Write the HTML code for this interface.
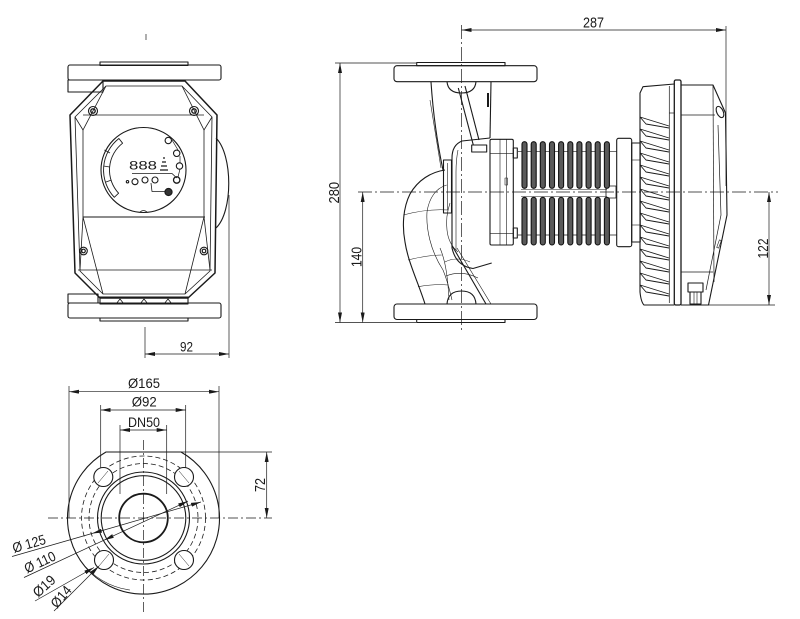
<!DOCTYPE html>
<html><head><meta charset="utf-8"><style>
html,body{margin:0;padding:0;background:#fff;}
svg{display:block;}
text{font-family:"Liberation Sans",sans-serif;fill:#1a1a1a;}
</style></head><body>
<svg width="800" height="619" viewBox="0 0 800 619" xmlns="http://www.w3.org/2000/svg">
<defs>
<marker id="a" viewBox="0 0 10 4" refX="10" refY="2" markerWidth="10" markerHeight="4" markerUnits="userSpaceOnUse" orient="auto-start-reverse"><path d="M0,0 L10,2 L0,4z" fill="#1a1a1a"/></marker>
</defs>
<rect width="800" height="619" fill="#fff"/>

<!-- ============ FRONT VIEW ============ -->
<g fill="none" stroke="#1a1a1a" stroke-width="1.1" stroke-linejoin="round">
  <line x1="146" y1="34" x2="146" y2="40" stroke-width="0.7"/>
  <path d="M216,138 C233,155 233,212 216,228"/>
  <rect x="100" y="62" width="88" height="3.5"/>
  <rect x="68" y="65" width="153" height="15" rx="2"/>
  <rect x="68" y="80" width="35" height="12"/>
  <polygon points="103,81 185,81 217,115 215,273 188,298 100,298 75,273 70,115" stroke-width="1.5"/>
  <polygon points="106,86 182,86 212,117 210,271 185,294 103,294 80,271 75,117" stroke-width="0.8"/>
  <line x1="83" y1="115" x2="204" y2="115" stroke-width="0.8"/>
  <polyline points="106,86 83,130 75,117" stroke-width="0.8"/>
  <polyline points="182,86 204,130 212,117" stroke-width="0.8"/>
  <line x1="83" y1="130" x2="83" y2="217" stroke-width="0.8"/>
  <line x1="204" y1="130" x2="204" y2="217" stroke-width="0.8"/>
  <line x1="83" y1="217" x2="205" y2="217" stroke-width="0.9"/>
  <polyline points="80,270 83,217 103,294" stroke-width="0.8"/>
  <polyline points="210,270 204,217 185,294" stroke-width="0.8"/>
  <line x1="78" y1="270" x2="212" y2="270" stroke-width="0.8"/>
  <circle cx="93" cy="111" r="4.5"/><circle cx="93" cy="111" r="2.2" stroke-width="1.4"/>
  <circle cx="194" cy="111" r="4.5"/><circle cx="194" cy="111" r="2.2" stroke-width="1.4"/>
  <circle cx="83.5" cy="251" r="3.8"/><circle cx="83.5" cy="251" r="1.8" stroke-width="1.2"/>
  <circle cx="204" cy="251" r="3.8"/><circle cx="204" cy="251" r="1.8" stroke-width="1.2"/>
  <circle cx="143.5" cy="170" r="42.5"/>
  <path d="M140,212 Q143.5,209 147,212" stroke-width="0.8"/>
  <path d="M118.9,138.5 A40,40 0 0 0 114.3,197.3 L118.6,193.2 A34,34 0 0 1 122.6,143.2 Z" stroke-width="0.9"/>
  <line x1="104.4" y1="150" x2="110" y2="153" stroke-width="0.8"/>
  <line x1="103.6" y1="166" x2="109.6" y2="167" stroke-width="0.8"/>
  <line x1="106" y1="182" x2="111.5" y2="180" stroke-width="0.8"/>
  <circle cx="168.3" cy="140.5" r="3.2"/>
  <circle cx="176.7" cy="153.3" r="3.2"/>
  <circle cx="179.5" cy="166" r="3.2"/>
  <circle cx="176.7" cy="180" r="3.2" stroke-width="1.3"/>
  <circle cx="135" cy="181.7" r="3"/>
  <circle cx="145" cy="180" r="3"/>
  <circle cx="155" cy="180" r="3"/>
  <circle cx="168.5" cy="192" r="3.6" fill="#333"/>
  <circle cx="127.5" cy="181.7" r="1.2"/>
  <polyline points="132,173.5 172,173.5 176.7,178" stroke-width="0.8"/>
  <polyline points="151,183 152,191.5 165,191.5" stroke-width="0.8"/>
  <path d="M172,140 L178,150 M180,156 L180,163 M180,169 L178,177" stroke-width="0.7"/>
  <rect x="68" y="294" width="30" height="9"/>
  <rect x="100" y="297" width="88" height="7"/>
  <path d="M116,304 L120,299 L124,304 M140,304 L144,299 L148,304 M164,304 L168,299 L172,304" stroke-width="0.8"/>
  <rect x="68" y="303" width="153" height="15" rx="2"/>
  <rect x="100" y="318" width="88" height="3"/>
</g>
<text x="129" y="169.5" font-size="12" textLength="28" lengthAdjust="spacingAndGlyphs" fill="#444">888</text>
<path d="M163,158 L165,158 M162,162 L166,162 M161,166 L167,166 M160,170 L168,170" stroke="#1a1a1a" stroke-width="1.2"/>
<g stroke="#1a1a1a" stroke-width="0.7" fill="none">
  <line x1="145" y1="327" x2="145" y2="358"/>
  <line x1="229" y1="195" x2="229" y2="358"/>
  <line x1="145" y1="354" x2="229" y2="354" marker-start="url(#a)" marker-end="url(#a)"/>
</g>
<text x="180" y="351.5" font-size="14" textLength="13" lengthAdjust="spacingAndGlyphs">92</text>

<!-- ============ SIDE VIEW ============ -->
<g fill="none" stroke="#1a1a1a" stroke-width="0.7">
  <line x1="461.5" y1="25" x2="461.5" y2="330" stroke-dasharray="14 3 2 3"/>
  <line x1="358" y1="192" x2="778" y2="192" stroke-dasharray="14 3 2 3"/>
</g>
<g fill="none" stroke="#1a1a1a" stroke-width="1.1" stroke-linejoin="round">
  <rect x="416.7" y="62.5" width="88.3" height="3.2"/>
  <rect x="394" y="65.7" width="143" height="16" rx="3"/>
  <rect x="394" y="304" width="143" height="15.5" rx="3"/>
  <rect x="416.7" y="319.5" width="88.3" height="3"/>
  <path d="M447,81.7 Q448,93 461.5,93 Q475,93 476,81.7"/>
  <path d="M447,304 Q448,291 461.5,291 Q475,291 476,304"/>
  <!-- neck / volute -->
  <path d="M431,82 C433,112 437,142 443,170"/>
  <path d="M491,82 L490,138"/>
  <path d="M445,170 C431,172 418,180 410,194 C403,208 402,226 405,242 C408,262 418,282 425,304"/>
  <path d="M451.7,245 L486,304"/>
  <path d="M457,248 L491,304" stroke-width="0.6"/>
  <g stroke-width="0.6">
    <path d="M446.7,185 C436,188 429,198 427,212 C426,228 430,250 443,270 C448,282 450,292 452,300"/>
    <path d="M450,203 C447,212 446,222 447,230 C448,240 452,247 458,252"/>
    <path d="M403.3,215 C418,211 433,209 448.3,210"/>
    <path d="M408,260 C420,257 432,255 441.7,255"/>
    <path d="M418,286.7 C428,285 438,284 448,285"/>
    <path d="M445,262 C452,258 462,258 470,262"/>
    <path d="M446,276 C456,272 466,272 478,278"/>
    <path d="M440,248 C446,262 448,280 449,300"/>
    <path d="M430,100 C434,125 438,150 441,168"/>
  </g>
  <!-- rod -->
  <line x1="458.3" y1="88" x2="473.3" y2="145"/>
  <line x1="465" y1="86" x2="479" y2="140"/>
  <line x1="488" y1="93" x2="488" y2="107" stroke-width="2"/>
  <!-- pump head -->
  <path d="M490,138 L462,141 Q452,145 452,158 L452,248 Q456,266 473,268.5 L491.7,263"/>
  <path d="M458,150 Q456,160 456,172 L456,250" stroke-width="0.6"/>
  <rect x="443.5" y="160" width="8" height="53"/>
  <line x1="447.5" y1="163" x2="447.5" y2="210" stroke-width="0.6"/>
  <rect x="471.7" y="145" width="15" height="7"/>
  <!-- terminal box -->
  <rect x="490" y="139.3" width="23.3" height="105.7" rx="1.5"/>
  <line x1="500" y1="139.3" x2="500" y2="245" stroke-width="0.6"/>
  <line x1="506.7" y1="139.3" x2="506.7" y2="245" stroke-width="0.6"/>
  <line x1="490" y1="153.3" x2="513.3" y2="153.3" stroke-width="0.6"/>
  <line x1="490" y1="233.3" x2="513.3" y2="233.3" stroke-width="0.6"/>
  <rect x="513.3" y="148" width="4" height="10"/>
  <rect x="513.3" y="228" width="4" height="10"/>
  <rect x="505" y="178" width="2.5" height="7" stroke-width="0.6"/>
  <line x1="518" y1="151.7" x2="617" y2="151.7" stroke-width="0.7"/>
  <line x1="518" y1="235" x2="617" y2="235" stroke-width="0.7"/>
  <line x1="521" y1="189.5" x2="607" y2="189.5" stroke-width="0.6"/>
  <line x1="521" y1="196.5" x2="607" y2="196.5" stroke-width="0.6"/>
  <rect x="606" y="186" width="10" height="12" stroke-width="0.8"/>
  <rect x="616.7" y="138.3" width="15" height="108.4" rx="2"/>
  <rect x="631.7" y="143" width="8.5" height="99"/>
  <line x1="631.7" y1="160" x2="640" y2="160" stroke-width="0.6"/>
  <line x1="631.7" y1="225" x2="640" y2="225" stroke-width="0.6"/>
</g>
<g fill="#5a5a5a" stroke="#111" stroke-width="1.1">
  <rect x="522" y="141.7" width="5" height="46.6" rx="2.5"/><rect x="522" y="197.3" width="5" height="47.7" rx="2.5"/>
  <rect x="531.2" y="141.7" width="5" height="46.6" rx="2.5"/><rect x="531.2" y="197.3" width="5" height="47.7" rx="2.5"/>
  <rect x="540.3" y="141.7" width="5" height="46.6" rx="2.5"/><rect x="540.3" y="197.3" width="5" height="47.7" rx="2.5"/>
  <rect x="549.5" y="141.7" width="5" height="46.6" rx="2.5"/><rect x="549.5" y="197.3" width="5" height="47.7" rx="2.5"/>
  <rect x="558.6" y="141.7" width="5" height="46.6" rx="2.5"/><rect x="558.6" y="197.3" width="5" height="47.7" rx="2.5"/>
  <rect x="567.8" y="141.7" width="5" height="46.6" rx="2.5"/><rect x="567.8" y="197.3" width="5" height="47.7" rx="2.5"/>
  <rect x="576.9" y="141.7" width="5" height="46.6" rx="2.5"/><rect x="576.9" y="197.3" width="5" height="47.7" rx="2.5"/>
  <rect x="586.1" y="141.7" width="5" height="46.6" rx="2.5"/><rect x="586.1" y="197.3" width="5" height="47.7" rx="2.5"/>
  <rect x="595.2" y="141.7" width="5" height="46.6" rx="2.5"/><rect x="595.2" y="197.3" width="5" height="47.7" rx="2.5"/>
  <rect x="604.4" y="141.7" width="5" height="46.6" rx="2.5"/><rect x="604.4" y="197.3" width="5" height="47.7" rx="2.5"/>
</g>
<!-- motor housing -->
<g fill="none" stroke="#1a1a1a" stroke-width="1.1" stroke-linejoin="round">
  <path d="M674.3,84 L643,86.7 L640,93 L640,292 Q641,302 644,305 L674.3,305"/>
  <line x1="669.3" y1="86" x2="669.3" y2="303" stroke-width="0.7"/>
  <line x1="669.3" y1="113" x2="674.3" y2="113" stroke-width="0.7"/>
  <g stroke-width="0.9">
    <path d="M640,117 L669,126 M640,117 L646,124 L669,128"/>
    <path d="M640,129 L669,138 M640,129 L646,136 L669,140"/>
    <path d="M640,141 L669,150 M640,141 L646,148 L669,152"/>
    <path d="M640,153 L669,162 M640,153 L646,160 L669,164"/>
    <path d="M640,165 L669,174 M640,165 L646,172 L669,176"/>
    <path d="M640,177 L669,186 M640,177 L646,184 L669,188"/>
    <path d="M640,189 L669,198 M640,189 L646,196 L669,200"/>
    <path d="M640,201 L669,210 M640,201 L646,208 L669,212"/>
    <path d="M640,213 L669,222 M640,213 L646,220 L669,224"/>
    <path d="M640,225 L669,234 M640,225 L646,232 L669,236"/>
    <path d="M640,237 L669,246 M640,237 L646,244 L669,248"/>
    <path d="M640,249 L669,258 M640,249 L646,256 L669,260"/>
    <path d="M640,261 L669,270 M640,261 L646,268 L669,272"/>
    <path d="M640,273 L669,282 M640,273 L646,280 L669,284"/>
    <path d="M640,285 L669,294 M640,285 L646,292 L669,296"/>
  </g>
  <rect x="674.3" y="80" width="6.7" height="225" rx="1.5" stroke-width="1.3"/>
  <path d="M681,85 L713,85 L725.5,113 L727,215 L708.5,305 L681,305"/>
  <line x1="713" y1="85" x2="714" y2="282" stroke-width="0.7"/>
  <line x1="681" y1="115" x2="715" y2="115" stroke-width="0.7"/>
  <line x1="681" y1="272" x2="713" y2="272" stroke-width="0.7"/>
  <path d="M718,125 L721,215 L706,290" stroke-width="0.7"/>
  <ellipse cx="720" cy="112" rx="3.2" ry="6" transform="rotate(-25 720 112)"/>
  <rect x="718" y="240" width="2" height="8" stroke-width="0.6" transform="rotate(20 719 244)"/>
  <rect x="688" y="283" width="15" height="9"/>
  <rect x="690" y="292" width="11" height="12"/>
  <line x1="694" y1="292" x2="694" y2="304" stroke-width="0.6"/>
  <line x1="697" y1="292" x2="697" y2="304" stroke-width="0.6"/>
</g>
<g stroke="#1a1a1a" stroke-width="0.7" fill="none">
  <line x1="461.5" y1="30" x2="726" y2="30" marker-start="url(#a)" marker-end="url(#a)"/>
  <line x1="726" y1="26" x2="726" y2="186"/>
  <line x1="335" y1="63" x2="416" y2="63"/>
  <line x1="335" y1="322.5" x2="416" y2="322.5"/>
  <line x1="340" y1="63" x2="340" y2="322.5" marker-start="url(#a)" marker-end="url(#a)"/>
  <line x1="362.7" y1="192" x2="362.7" y2="322.5" marker-start="url(#a)" marker-end="url(#a)"/>
  <line x1="703" y1="305" x2="775" y2="305"/>
  <line x1="769" y1="192" x2="769" y2="305" marker-start="url(#a)" marker-end="url(#a)"/>
</g>
<text x="583" y="27.5" font-size="15" textLength="21" lengthAdjust="spacingAndGlyphs">287</text>
<text transform="translate(339,203.5) rotate(-90)" font-size="15" textLength="21.6" lengthAdjust="spacingAndGlyphs">280</text>
<text transform="translate(361.5,267) rotate(-90)" font-size="15" textLength="20" lengthAdjust="spacingAndGlyphs">140</text>
<text transform="translate(768,258.5) rotate(-90)" font-size="15" textLength="20" lengthAdjust="spacingAndGlyphs">122</text>

<!-- ============ FLANGE VIEW ============ -->
<g fill="none" stroke="#1a1a1a" stroke-width="0.7">
  <line x1="143.5" y1="440" x2="143.5" y2="612" stroke-dasharray="10 3 2 3"/>
  <line x1="48" y1="518" x2="272" y2="518" stroke-dasharray="10 3 2 3"/>
  <line x1="69" y1="386" x2="69" y2="518"/>
  <line x1="219" y1="386" x2="219" y2="518"/>
  <line x1="69" y1="391.7" x2="219" y2="391.7" marker-start="url(#a)" marker-end="url(#a)"/>
  <line x1="100.7" y1="405" x2="100.7" y2="470"/>
  <line x1="185.7" y1="405" x2="185.7" y2="470"/>
  <line x1="100.7" y1="410" x2="185.7" y2="410" marker-start="url(#a)" marker-end="url(#a)"/>
  <line x1="120" y1="425" x2="120" y2="494"/>
  <line x1="166.7" y1="425" x2="166.7" y2="494"/>
  <line x1="120" y1="430" x2="166.7" y2="430" marker-start="url(#a)" marker-end="url(#a)"/>
  <line x1="181" y1="452" x2="272" y2="452"/>
  <line x1="266.7" y1="452" x2="266.7" y2="518" marker-start="url(#a)" marker-end="url(#a)"/>
</g>
<g fill="none" stroke="#1a1a1a" stroke-width="1.1">
  <path d="M106,452 L181,452 A76,76 0 1 1 106,452 Z"/>
  <path d="M80,560 A73,73 0 0 0 130,590" stroke-width="0.6"/>
  <circle cx="143.5" cy="518" r="62" stroke-width="0.8" stroke-dasharray="5 3"/>
  <circle cx="143.5" cy="518" r="54.5" stroke-width="0.8" stroke-dasharray="5 3"/>
  <circle cx="143.5" cy="518" r="46"/>
  <circle cx="143.5" cy="518" r="42.3"/>
  <circle cx="143.5" cy="518" r="24.3" stroke-width="1.8"/>
  <circle cx="103.3" cy="477" r="9.5" fill="#fff"/>
  <circle cx="184" cy="477" r="9.5" fill="#fff"/>
  <circle cx="104" cy="560" r="9.5" fill="#fff"/>
  <circle cx="184" cy="560" r="9.5" fill="#fff"/>
  <g stroke-width="0.5">
    <line x1="98" y1="483" x2="108" y2="471"/>
    <line x1="179" y1="471" x2="189" y2="483"/>
    <line x1="99" y1="566" x2="109" y2="554"/>
    <line x1="179" y1="554" x2="189" y2="566"/>
  </g>
</g>
<g stroke="#1a1a1a" stroke-width="0.7" fill="none">
  <line x1="12" y1="556.5" x2="92" y2="533.5"/>
  <line x1="92" y1="533.5" x2="201" y2="502" marker-start="url(#a)" marker-end="url(#a)"/>
  <line x1="24" y1="577.5" x2="104" y2="540.2"/>
  <line x1="104" y1="540.2" x2="188" y2="501.1" marker-start="url(#a)" marker-end="url(#a)"/>
  <line x1="35" y1="601" x2="94" y2="567.5" marker-end="url(#a)"/>
  <line x1="54" y1="611" x2="99" y2="566" marker-end="url(#a)"/>
</g>
<text x="128" y="388" font-size="14" textLength="32" lengthAdjust="spacingAndGlyphs">Ø165</text>
<text x="131.7" y="406.7" font-size="14" textLength="25" lengthAdjust="spacingAndGlyphs">Ø92</text>
<text x="128" y="427" font-size="14" textLength="32" lengthAdjust="spacingAndGlyphs">DN50</text>
<text transform="translate(265,492) rotate(-90)" font-size="15" textLength="14" lengthAdjust="spacingAndGlyphs">72</text>
<text transform="translate(14,553) rotate(-16)" font-size="14" textLength="34" lengthAdjust="spacingAndGlyphs">Ø 125</text>
<text transform="translate(27,573.5) rotate(-25)" font-size="14" textLength="33" lengthAdjust="spacingAndGlyphs">Ø 110</text>
<text transform="translate(38,598) rotate(-42)" font-size="14" textLength="25" lengthAdjust="spacingAndGlyphs">Ø19</text>
<text transform="translate(57,609) rotate(-50)" font-size="14" textLength="24" lengthAdjust="spacingAndGlyphs">Ø14</text>
</svg>
</body></html>
